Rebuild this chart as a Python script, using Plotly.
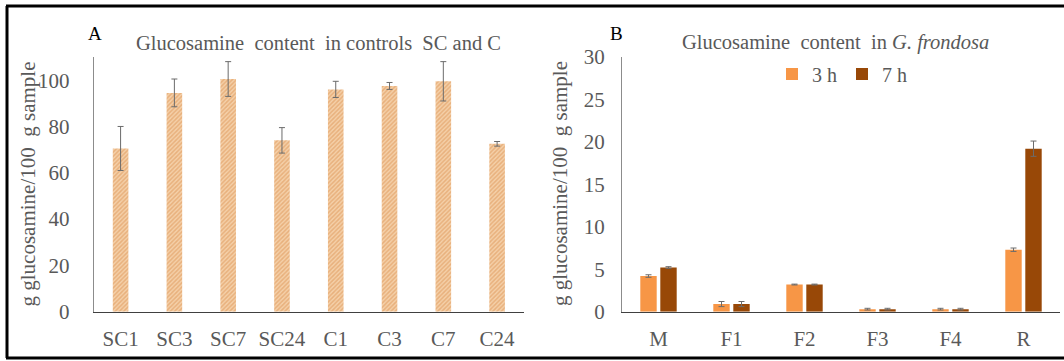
import plotly.graph_objects as go

W, H = 1064, 361

# Panel A data
cats_a = ["SC1", "SC3", "SC7", "SC24", "C1", "C3", "C7", "C24"]
vals_a = [70.5, 94.5, 100.5, 74, 96, 97.5, 99.5, 72.5]
err_a = [9.5, 6, 7.5, 5.5, 3.5, 1.5, 8.5, 1]

# Panel B data
cats_b = ["M", "F1", "F2", "F3", "F4", "R"]
vals_3h = [4.2, 0.9, 3.2, 0.3, 0.3, 7.3]
err_3h = [0.15, 0.3, 0.05, 0.1, 0.1, 0.2]
vals_7h = [5.2, 0.9, 3.2, 0.3, 0.3, 19.2]
err_7h = [0.1, 0.3, 0.05, 0.1, 0.1, 0.9]

TXT = "#595959"
FONT = "Liberation Serif"

fig = go.Figure()

fig.add_trace(go.Bar(
    x=cats_a, y=vals_a, xaxis="x", yaxis="y", showlegend=False, width=0.29,
    marker=dict(color="#F3CDA4", line=dict(width=0),
                pattern=dict(shape="/", fgcolor="#DC8F4E", bgcolor="#F4D0A9", size=3, solidity=0.5)),
    error_y=dict(type="data", array=err_a, color="#6b6b6b", thickness=1, width=3),
))

fig.add_trace(go.Bar(
    x=cats_b, y=vals_3h, name="3 h", xaxis="x2", yaxis="y2",
    marker=dict(color="#F79646", line=dict(width=0)),
    error_y=dict(type="data", array=err_3h, color="#6b6b6b", thickness=1, width=3),
))
fig.add_trace(go.Bar(
    x=cats_b, y=vals_7h, name="7 h", xaxis="x2", yaxis="y2",
    marker=dict(color="#984807", line=dict(width=0)),
    error_y=dict(type="data", array=err_7h, color="#6b6b6b", thickness=1, width=3),
))


def px(x):
    return x / W


def py(y):
    return 1 - y / H


ydom = [py(311.7), py(57)]

axis_common = dict(showgrid=False, zeroline=False, automargin=False,
                   tickfont=dict(family=FONT, size=21, color=TXT))
hidden_ticks = dict(ticks="outside", tickcolor="rgba(0,0,0,0)", tickwidth=1)

fig.update_layout(
    width=W, height=H,
    margin=dict(l=0, r=0, t=0, b=0, pad=0, autoexpand=False),
    paper_bgcolor="white", plot_bgcolor="white",
    barmode="group", bargap=0.452, bargroupgap=0.18,
    font=dict(family=FONT, color=TXT),
    xaxis=dict(domain=[px(93.7), px(524)], anchor="y", showline=True, linecolor="#404040",
               linewidth=1, ticks="", ticklabelstandoff=8, **axis_common),
    yaxis=dict(domain=ydom, anchor="x", range=[0, 110], dtick=20, showline=True,
               linecolor="#8c8c8c", linewidth=1, ticklen=19, **hidden_ticks, **axis_common),
    xaxis2=dict(domain=[px(622), px(1060)], anchor="y2", showline=True, linecolor="#404040",
                linewidth=1, ticks="", ticklabelstandoff=8, **axis_common),
    yaxis2=dict(domain=ydom, anchor="x2", range=[0, 30], dtick=5, showline=True,
                linecolor="#8c8c8c", linewidth=1, ticklen=12, **hidden_ticks, **axis_common),
    legend=dict(orientation="h", x=px(772), y=py(74), xanchor="left", yanchor="middle",
                font=dict(family=FONT, size=20, color=TXT), bgcolor="rgba(0,0,0,0)",
                itemwidth=30),
)

annotations = [
    dict(text="A", x=px(95), y=py(33), font=dict(size=19, color="black")),
    dict(text="B", x=px(616), y=py(33), font=dict(size=19, color="black")),
    dict(text="Glucosamine  content  in controls  SC and C", x=px(318), y=py(43),
         font=dict(size=20.5, color=TXT)),
    dict(text="Glucosamine  content  in <i>G. frondosa</i>", x=px(835), y=py(43),
         font=dict(size=20.5, color=TXT)),
    dict(text="g glucosamine/100  g sample", x=px(27.5), y=py(184), textangle=-90,
         font=dict(size=21, color=TXT)),
    dict(text="g glucosamine/100  g sample", x=px(560), y=py(184), textangle=-90,
         font=dict(size=21, color=TXT)),
]
for a in annotations:
    a.update(xref="paper", yref="paper", showarrow=False, xanchor="center", yanchor="middle")
    a["font"]["family"] = FONT
fig.update_layout(annotations=annotations)

# Outer frame (left, top, bottom)
frame = dict(type="line", xref="paper", yref="paper", line=dict(color="black", width=3))
fig.add_shape(x0=px(7), x1=px(7), y0=py(6), y1=py(358), **frame)
fig.add_shape(x0=px(6), x1=1, y0=py(6), y1=py(6), **frame)
fig.add_shape(x0=px(6), x1=1, y0=py(358), y1=py(358), **frame)

fig.write_html("out.html")
